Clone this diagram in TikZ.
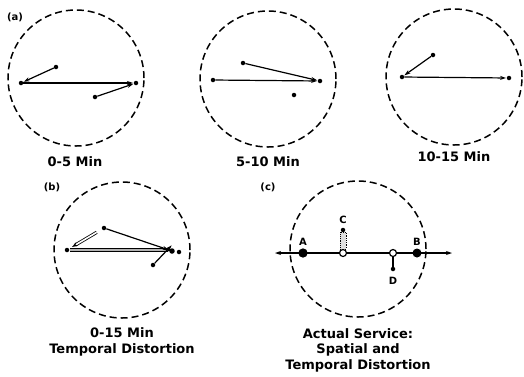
\documentclass[tikz,border=0pt]{standalone}
\usepackage{fontspec}
\setmainfont{DejaVu Sans}
\usetikzlibrary{arrows.meta}

\begin{document}
\begin{tikzpicture}[x=1pt, y=-1pt, >={Stealth[length=6pt,width=4pt]}]
        % Styles
        \tikzset{zone/.style={circle, draw, dash pattern=on 7pt off 4pt, line width=1.5pt, minimum size=136pt, inner sep=0pt}}
        \tikzset{stop/.style={circle, fill, inner sep=0pt, minimum size=4.5pt}}
        \tikzset{hole/.style={circle, draw, fill=white, line width=1.2pt, inner sep=0pt, minimum size=7pt}}
        \tikzset{trip/.style={->, line width=1.2pt, shorten >=0.5pt}}
        \tikzset{caption/.style={font=\bfseries\fontsize{13}{15.5}\selectfont, align=center}}
        \tikzset{tag/.style={font=\bfseries\fontsize{10}{12}\selectfont}}

        \useasboundingbox (0,0) rectangle (524,376);

        % (a) three time slices
        \node[tag] (taga) at (15,17) {(a)};
        \node[zone] (zone1) at (76,78) {};
        \node[stop] (p1l) at (21,83) {};
        \node[stop] (p1u) at (56,67) {};
        \node[stop] (p1r) at (136,83) {};
        \node[stop] (p1d) at (95,97) {};
        \node[caption] (cap1) at (75,162) {0-5 Min};
        \draw[trip] (p1u) -- (p1l);
        \draw[trip] (p1l) -- (p1r);
        \draw[trip] (p1d) -- (p1r);

        \node[zone] (zone2) at (268,79) {};
        \node[stop] (p2l) at (213,80) {};
        \node[stop] (p2u) at (243,63) {};
        \node[stop] (p2r) at (320,81) {};
        \node[stop] (p2d) at (294,95) {};
        \node[caption] (cap2) at (268,162) {5-10 Min};
        \draw[trip] (p2l) -- (p2r);
        \draw[trip] (p2u) -- (p2r);

        \node[zone] (zone3) at (454,77) {};
        \node[stop] (p3l) at (402,77) {};
        \node[stop] (p3u) at (433,55) {};
        \node[stop] (p3r) at (509,78) {};
        \node[caption] (cap3) at (454,157) {10-15 Min};
        \draw[trip] (p3u) -- (p3l);
        \draw[trip] (p3l) -- (p3r);

        % (b) all slices together
        \node[tag] (tagb) at (52,187) {(b)};
        \node[zone] (zoneb) at (122,250) {};
        \node[stop] (qbl) at (67,250) {};
        \node[stop] (qbu) at (104,228) {};
        \node[stop] (qbr) at (179,252) {};
        \node[stop] (qbd) at (153,265) {};
        \coordinate (qbin) at (72,247);
        \coordinate (qbe) at (172,250);
        \coordinate (qbs) at (70,250);
        \node[stop, minimum size=5.5pt] (qbc) at (172,251) {};
        \draw[->, line width=0.8pt, double=white, double distance=1.6pt, shorten <=6pt] (qbu) -- (qbin);
        \draw[->, line width=0.9pt, double=gray!60, double distance=2.6pt] (qbs) -- (qbe);
        \draw[trip] (qbu) -- (qbc);
        \draw[trip] (qbd) -- ([yshift=6pt]qbc.center);
        \node[caption] (capb) at (122,342) {0-15 Min\\Temporal Distortion};

        % (c) actual service
        \node[tag] (tagc) at (268,187) {(c)};
        \node[zone] (zonec) at (358,249) {};
        \coordinate (west) at (275,253);
        \coordinate (east) at (452,253);
        \draw[<->, line width=1.4pt] (west) -- (east);
        \node[hole, fill=black, minimum size=8pt] (sa) at (303,253) {};
        \node[hole] (sc) at (343,253) {};
        \node[hole] (sd) at (393,253) {};
        \node[stop, minimum size=9pt] (sb) at (417,253) {};
        \node[stop] (sct) at (343,230) {};
        \node[stop] (sdb) at (393,269) {};
        \draw[densely dotted, fill=gray!25, line width=0.8pt] ([xshift=-3pt]sct.south) rectangle ([xshift=3pt]sc.north);
        \draw[line width=1.2pt] (sd) -- (sdb);
        \node[tag] (la) at (303,242) {A};
        \node[tag] (lb) at (417,242) {B};
        \node[tag] (lc) at (343,220) {C};
        \node[tag] (ld) at (393,281) {D};
        \node[caption] (capc) at (358,350) {Actual Service:\\Spatial and\\Temporal Distortion};
    \end{tikzpicture}
\end{document}
